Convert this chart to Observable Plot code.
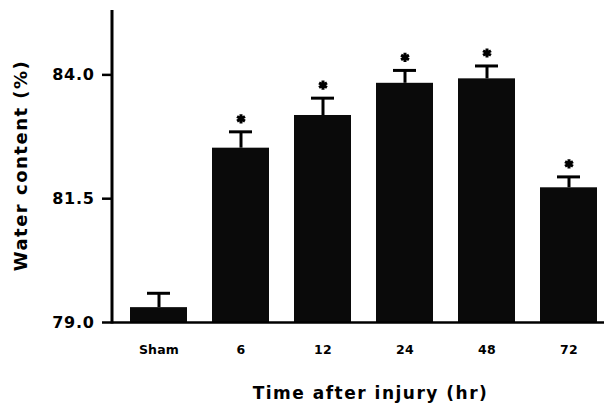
<!DOCTYPE html>
<html><head><meta charset="utf-8">
<script src="https://cdn.jsdelivr.net/npm/d3@7"></script>
<script src="https://cdn.jsdelivr.net/npm/@observablehq/plot@0.6"></script>
<style>
body{margin:0;background:#fff}
svg{font-family:"DejaVu Sans",sans-serif;font-weight:bold}
g[aria-label="y-axis tick label"] text{letter-spacing:0.7px}
g[aria-label="x-axis tick label"] text{letter-spacing:0.2px}
g[aria-label="text"] text{letter-spacing:1.5px}
</style>
</head><body><div id="chart"></div>
<script>
const categories = ["Sham", "6", "12", "24", "48", "72"];
const means = [79.30, 82.52, 83.18, 83.83, 83.92, 81.72];
const errors = [0.29, 0.33, 0.35, 0.26, 0.26, 0.22];
const significant = [false, true, true, true, true, true];
const yTicks = [79.0, 81.5, 84.0];
const yDomain = [79, 85.3];
const xTitle = "Time after injury (hr)";
const yTitle = "Water content (%)";

const data = categories.map((c, i) => ({cat: c, mean: means[i], hi: means[i] + errors[i], sig: significant[i]}));

const yAxisLine = (index, scales, values, dims) => {
  const l = document.createElementNS("http://www.w3.org/2000/svg", "line");
  l.setAttribute("x1", dims.marginLeft);
  l.setAttribute("x2", dims.marginLeft);
  l.setAttribute("y1", scales.y(yDomain[1]));
  l.setAttribute("y2", scales.y(yDomain[0]) + 1.5);
  l.setAttribute("stroke", "#000");
  l.setAttribute("stroke-width", 3);
  return l;
};

const plot = Plot.plot({
  width: 604,
  height: 408,
  marginTop: 10,
  marginBottom: 86,
  marginLeft: 112,
  marginRight: 0,
  style: {background: "#fff", color: "#000"},
  x: {domain: categories, range: [130.5, 597.9], paddingInner: 0.3, paddingOuter: 0, align: 0.5, label: null},
  y: {domain: yDomain, label: null},
  marks: [
    Plot.barY(data, {x: "cat", y1: yDomain[0], y2: "mean", fill: "#0a0a0a"}),
    Plot.ruleX(data, {x: "cat", y1: "mean", y2: "hi", stroke: "#000", strokeWidth: 3}),
    Plot.tickY(data, {x: "cat", y: "hi", stroke: "#000", strokeWidth: 3, insetLeft: 17, insetRight: 17}),
    Plot.dot(data.filter(d => d.sig), {x: "cat", y: "hi", dy: -13, symbol: "asterisk", r: 4.3, stroke: "#000", strokeWidth: 3}),
    Plot.ruleY([yDomain[0]], {stroke: "#000", strokeWidth: 2.5}),
    yAxisLine,
    Plot.axisY({ticks: yTicks, tickFormat: d => d.toFixed(1), tickSize: 10, tickPadding: 8, fontSize: 16, strokeWidth: 2.5, label: null}),
    Plot.axisX({tickSize: 0, tickPadding: 23, fontSize: 12.5, label: null}),
    Plot.text([xTitle], {frameAnchor: "bottom", dy: 71, dx: 12, fontSize: 17, fontWeight: "bold", lineAnchor: "middle", textAnchor: "middle"}),
    Plot.text([yTitle], {frameAnchor: "left", dx: -91, dy: -1, rotate: -90, fontSize: 18, fontWeight: "bold", lineAnchor: "middle", textAnchor: "middle"})
  ]
});
document.getElementById("chart").appendChild(plot);
</script>
</body></html>
